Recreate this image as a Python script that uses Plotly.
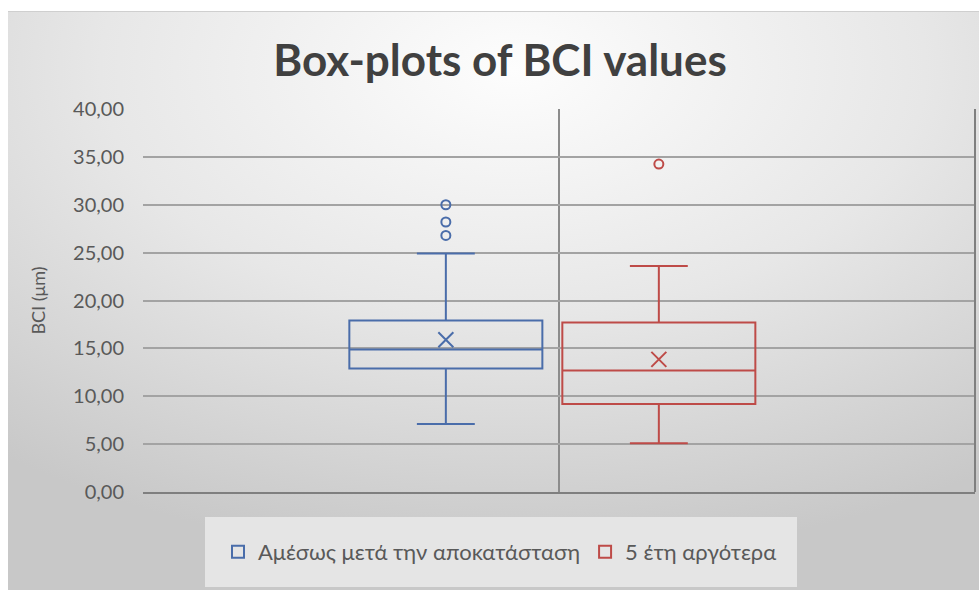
import base64
import plotly.graph_objects as go

# ── Data ──────────────────────────────────────────────────────────────────────
SERIES = ["Αμέσως μετά την αποκατάσταση", "5 έτη αργότερα"]
Q1 = [12.90, 9.20]
MEDIAN = [14.87, 12.70]
Q3 = [17.90, 17.70]
LOWER = [7.10, 5.10]
UPPER = [24.90, 23.60]
MEAN = [15.90, 13.85]
OUTLIERS = [[26.80, 28.20, 30.00], [34.25]]

# ── Style ────────────────────────────────────────────────────────────────────
COLORS = ["#4A6DAA", "#BE4B48"]
TEXT = "#595959"
TITLE_C = "#404040"
GRID = "#a3a3a3"
FONT = "Lato, 'Noto Sans', sans-serif"

W, H = 979, 590
L, R, T, B = 143, 4, 109, 98
PW, PH = W - L - R, H - T - B

# slot positions of the two boxes on the (numeric) x axis
SLOT = [-0.136, 0.120]
BOX_W = 0.232


def _background() -> str:
    svg = f"""<svg xmlns="http://www.w3.org/2000/svg" width="{W}" height="{H}" viewBox="0 0 {W} {H}" preserveAspectRatio="none">
<defs><radialGradient id="g" cx="52%" cy="10%" r="85%">
<stop offset="0" stop-color="#fdfdfd"/><stop offset="0.5" stop-color="#e7e7e7"/><stop offset="1" stop-color="#c8c8c8"/>
</radialGradient></defs>
<rect width="{W}" height="{H}" fill="#ffffff"/>
<rect x="8" y="11" width="{W - 8}" height="{H - 11}" fill="url(#g)"/>
<line x1="8" y1="11.5" x2="{W}" y2="11.5" stroke="#cfcfcf"/>
<rect x="205" y="517" width="592" height="70" fill="#e8e8e8" opacity="0.9"/>
</svg>"""
    return "data:image/svg+xml;base64," + base64.b64encode(svg.encode()).decode()


fig = go.Figure()

for i, name in enumerate(SERIES):
    fig.add_trace(go.Box(
        name=name, x=[SLOT[i]],
        q1=[Q1[i]], median=[MEDIAN[i]], q3=[Q3[i]],
        lowerfence=[LOWER[i]], upperfence=[UPPER[i]],
        boxpoints=False, boxmean=False,
        width=BOX_W, whiskerwidth=0.3,
        line=dict(color=COLORS[i], width=2),
        fillcolor="rgba(0,0,0,0)",
        hoverinfo="skip",
    ))
    # mean marker (X)
    fig.add_trace(go.Scatter(
        x=[SLOT[i]], y=[MEAN[i]], mode="markers", showlegend=False,
        marker=dict(symbol="x-thin-open", size=15, color=COLORS[i],
                    line=dict(color=COLORS[i], width=2)),
        hoverinfo="skip",
    ))
    # outliers
    fig.add_trace(go.Scatter(
        x=[SLOT[i]] * len(OUTLIERS[i]), y=OUTLIERS[i], mode="markers", showlegend=False,
        marker=dict(symbol="circle-open", size=9, color=COLORS[i],
                    line=dict(color=COLORS[i], width=2)),
        hoverinfo="skip",
    ))

fig.update_layout(
    width=W, height=H,
    margin=dict(l=L, r=R, t=T, b=B),
    paper_bgcolor="#ffffff",
    plot_bgcolor="rgba(255,255,255,0.25)",
    separators=",.",
    font=dict(family=FONT, color=TEXT, size=20),
    title=dict(text="<b>Box-plots of BCI values</b>", x=500 / W, xanchor="center",
               y=1 - 61 / H, yanchor="middle",
               font=dict(family=FONT, size=44, color=TITLE_C)),
    showlegend=True,
    legend=dict(orientation="h", x=(500 - L) / PW, xanchor="center",
                y=(492 - 552) / PH, yanchor="middle",
                bgcolor="rgba(0,0,0,0)", font=dict(size=22, color=TEXT),
                itemwidth=30),
    images=[dict(source=_background(), xref="paper", yref="paper",
                 x=-L / PW, y=1 + T / PH, sizex=W / PW, sizey=H / PH,
                 xanchor="left", yanchor="top", sizing="stretch", layer="below")],
    shapes=[dict(type="line", xref="paper", yref="paper", x0=1, x1=1, y0=0, y1=1,
                 line=dict(color="#7f7f7f", width=2))],
)

fig.update_xaxes(range=[-0.5, 0.5], tickvals=[0], showticklabels=False,
                 showgrid=True, gridcolor="#8c8c8c", gridwidth=1.5, zeroline=False,
                 showline=True, linecolor="#7f7f7f", linewidth=2, fixedrange=True)
fig.update_yaxes(range=[0, 40], dtick=5, tickformat=".2f",
                 showgrid=True, gridcolor=GRID, gridwidth=1.5, zeroline=False,
                 ticks="", ticklabelstandoff=18,
                 title=dict(text="BCI (μm)", standoff=22, font=dict(size=18, color=TEXT)),
                 fixedrange=True)

fig.write_html("out.html", config={"displayModeBar": False},
               post_script="document.body.style.margin='0';")
